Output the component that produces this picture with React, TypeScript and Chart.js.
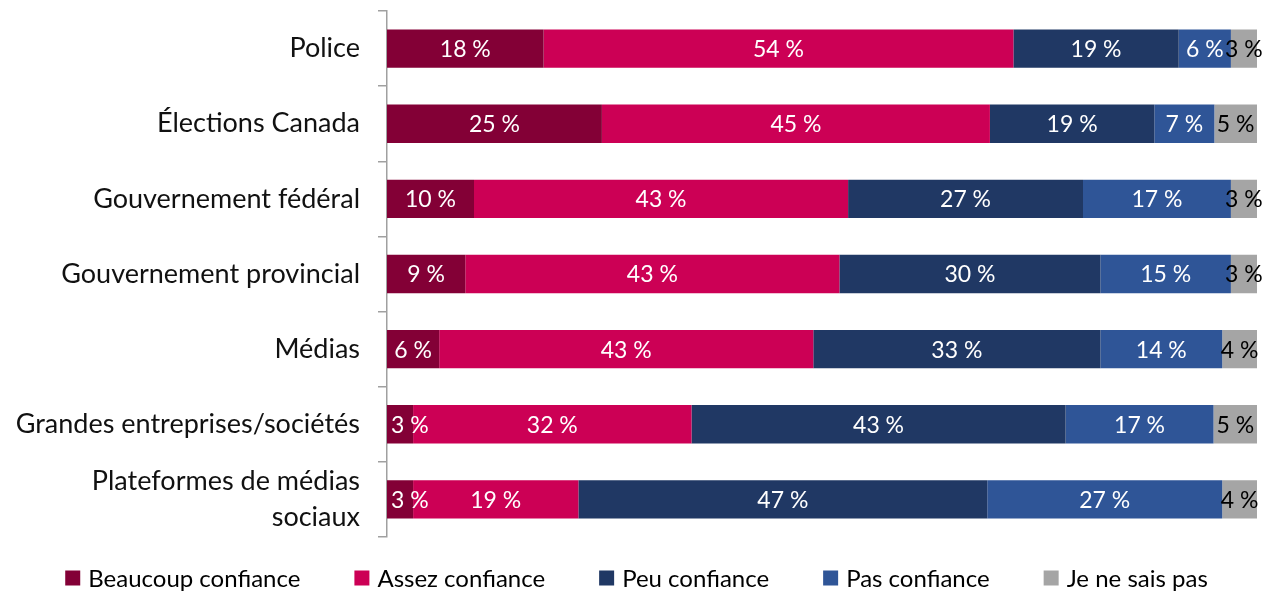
import React, { useEffect, useRef } from "react";
import { Chart, registerables } from "chart.js";

Chart.register(...registerables);

const categories: (string | string[])[] = [
  "Police",
  "Élections Canada",
  "Gouvernement fédéral",
  "Gouvernement provincial",
  "Médias",
  "Grandes entreprises/sociétés",
  ["Plateformes de médias", "sociaux"],
];

const seriesNames = ["Beaucoup confiance", "Assez confiance", "Peu confiance", "Pas confiance", "Je ne sais pas"];

const beaucoup = [18, 24.7, 10, 9, 6, 3, 3];
const assez = [54, 44.6, 43, 43, 43, 32, 19];
const peu = [19, 18.9, 27, 30, 33, 43, 47];
const pas = [6, 6.9, 17, 15, 14, 17, 27];
const nsp = [3, 4.9, 3, 3, 4, 5, 4];

const colors = ["#830036", "#CC0055", "#203864", "#2F5597", "#A5A5A5"];
const labelColors = ["#ffffff", "#ffffff", "#ffffff", "#ffffff", "#000000"];

const FONT = "Lato, 'Open Sans', sans-serif";

const dataLabelPlugin = {
  id: "dataLabels",
  afterDatasetsDraw(chart: any) {
    const ctx = chart.ctx;
    ctx.save();
    ctx.font = `23px ${FONT}`;
    ctx.textAlign = "center";
    ctx.textBaseline = "middle";
    const left = chart.chartArea.left;
    chart.data.datasets.forEach((ds: any, i: number) => {
      const meta = chart.getDatasetMeta(i);
      meta.data.forEach((bar: any, j: number) => {
        const v = ds.data[j];
        const text = `${Math.round(v)} %`;
        const p = bar.getProps(["x", "y", "base"], true);
        const w = ctx.measureText(text).width;
        let cx = (p.x + p.base) / 2;
        if (cx - w / 2 < left + 4) cx = left + 4 + w / 2;
        ctx.fillStyle = labelColors[i];
        ctx.fillText(text, cx, p.y + 1);
      });
    });
    ctx.restore();
  },
};

const legendPlugin = {
  id: "customLegend",
  afterDraw(chart: any) {
    const ctx = chart.ctx;
    ctx.save();
    ctx.font = `24px ${FONT}`;
    ctx.textBaseline = "middle";
    ctx.textAlign = "left";
    const box = 15;
    const textGap = 8;
    const itemGap = 54;
    const widths = seriesNames.map((n) => box + textGap + ctx.measureText(n).width);
    const total = widths.reduce((a, b) => a + b, 0) + itemGap * (seriesNames.length - 1);
    let x = (chart.width - total) / 2;
    const y = 578;
    seriesNames.forEach((n, i) => {
      ctx.fillStyle = colors[i];
      ctx.fillRect(x, y - box / 2, box, box);
      ctx.fillStyle = "#000000";
      ctx.fillText(n, x + box + textGap, y + 1);
      x += widths[i] + itemGap;
    });
    ctx.restore();
  },
};

export default function App() {
  const ref = useRef<HTMLCanvasElement | null>(null);
  useEffect(() => {
    if (!ref.current) return;
    const series = [beaucoup, assez, peu, pas, nsp];
    const chart = new Chart(ref.current, {
      type: "bar",
      data: {
        labels: categories,
        datasets: series.map((d, i) => ({
          label: seriesNames[i],
          data: d,
          backgroundColor: colors[i],
          borderWidth: 0,
          barPercentage: 0.51,
          categoryPercentage: 1,
        })),
      },
      options: {
        indexAxis: "y",
        animation: false,
        responsive: true,
        maintainAspectRatio: false,
        layout: { padding: { top: 11, right: 16, bottom: 54, left: 0 } },
        plugins: {
          legend: { display: false },
          tooltip: { enabled: false },
        },
        scales: {
          x: {
            stacked: true,
            display: false,
            min: 0,
            max: 100,
          },
          y: {
            stacked: true,
            afterFit: (s: any) => {
              s.width = 387;
              s.paddingTop = 0;
              s.paddingBottom = 0;
            },
            border: { display: true, color: "#A0A0A0", width: 1.5 },
            grid: {
              offset: true,
              drawOnChartArea: false,
              drawTicks: true,
              tickLength: 9,
              color: "#A0A0A0",
              lineWidth: 1.5,
            },
            ticks: {
              padding: 18,
              color: "#111111",
              font: { family: FONT, size: 27, lineHeight: 1.33 },
            },
          },
        },
      },
      plugins: [dataLabelPlugin, legendPlugin],
    });
    return () => chart.destroy();
  }, []);
  return (
    <div style={{ position: "fixed", left: 0, top: 0, width: 1273, height: 591, background: "#fff" }}>
      <canvas ref={ref} />
    </div>
  );
}
